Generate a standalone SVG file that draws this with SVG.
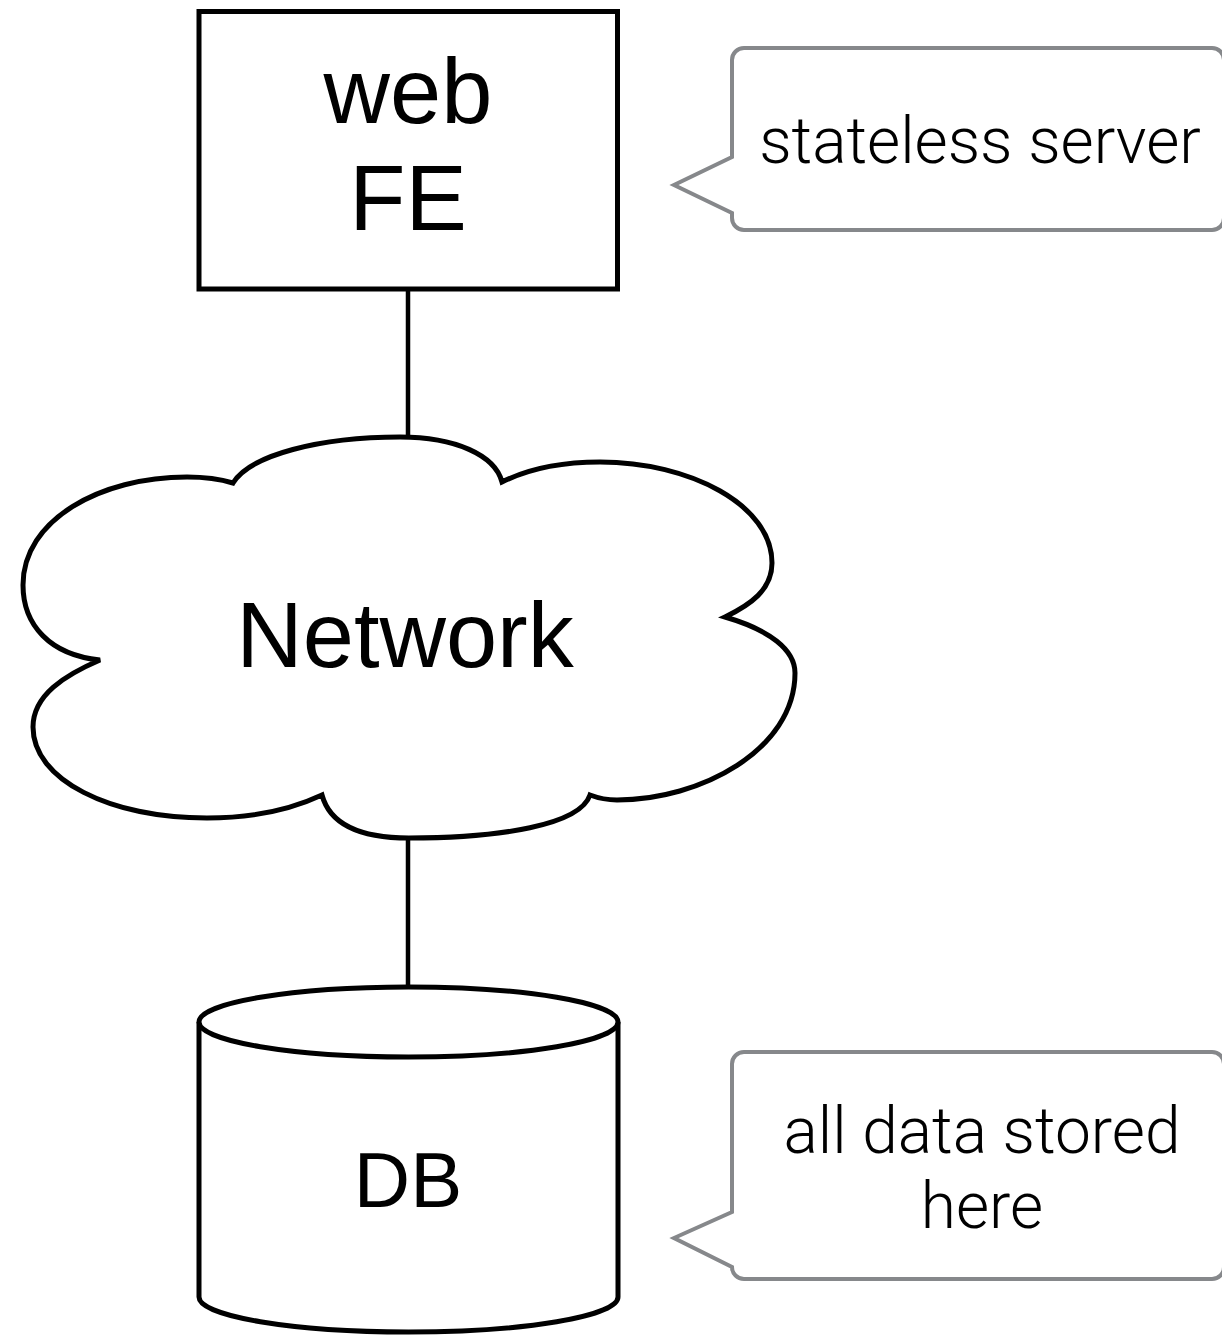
<svg xmlns="http://www.w3.org/2000/svg" width="1222" height="1335" viewBox="0 0 1222 1335">
  <style>
    .shape { fill: #ffffff; stroke: #000000; stroke-width: 5; }
    .link { stroke: #000000; stroke-width: 4.5; fill: none; }
    .note { fill: #ffffff; stroke: #86888b; stroke-width: 4; stroke-linejoin: miter; }
    .label { font-family: "Liberation Sans", Arial, Helvetica, sans-serif; fill: #000000; text-anchor: middle; }
    .note-text { font-family: Roboto, "Liberation Sans", Arial, sans-serif; font-weight: 300; fill: #000000; text-anchor: middle; font-size: 64px; }
  </style>
  <rect width="1222" height="1335" fill="#ffffff"/>

  <!-- connectors -->
  <g id="connectors">
    <line class="link" x1="408" y1="290" x2="408" y2="440"/>
    <line class="link" x1="408" y1="836" x2="408" y2="988"/>
  </g>

  <!-- web front end -->
  <g id="web-fe">
    <rect class="shape" x="199" y="11.5" width="418.5" height="277.5"/>
    <text class="label" x="408" y="123" font-size="92">web</text>
    <text class="label" x="408" y="230" font-size="92">FE</text>
  </g>

  <!-- network cloud -->
  <g id="network">
    <path class="shape" d="M100,660
      C50,655 23,625 23,585
      C23,520 100,477 187,477
      C205,477 220,479 233,483
      C250,455 320,437 400,437
      C455,437 495,455 502,482
      C530,468 565,462 600,462
      C690,462 772,505 772,563
      C772,590 750,605 725,617
      C770,630 795,650 795,673
      C795,750 700,800 617,800
      C605,800 598,798 590,795
      C580,825 500,838 409,838
      C360,838 330,825 322,795
      C290,810 250,818 207,818
      C110,818 33,780 33,727
      C33,695 65,675 100,660 Z"/>
    <text class="label" x="405" y="667" font-size="92">Network</text>
  </g>

  <!-- database cylinder -->
  <g id="db">
    <path class="shape" d="M199,1022 V1297 A209.5,35 0 0 0 618,1297 V1022"/>
    <ellipse class="shape" cx="408.5" cy="1022" rx="209.5" ry="35"/>
    <text class="label" x="408" y="1207" font-size="78">DB</text>
  </g>

  <!-- annotation for the front end -->
  <g id="note-stateless">
    <path class="note" d="M744,48 H1212 A12,12 0 0 1 1224,60 V218 A12,12 0 0 1 1212,230 H744 A12,12 0 0 1 732,218 V213 L674,185 L732,157 V60 A12,12 0 0 1 744,48 Z"/>
    <text class="note-text" x="980" y="163">stateless server</text>
  </g>

  <!-- annotation for the database -->
  <g id="note-data">
    <path class="note" d="M744,1052 H1212 A12,12 0 0 1 1224,1064 V1267 A12,12 0 0 1 1212,1279 H744 A12,12 0 0 1 732,1267 L674,1238 L732,1212 V1064 A12,12 0 0 1 744,1052 Z"/>
    <text class="note-text" x="982" y="1153">all data stored</text>
    <text class="note-text" x="982" y="1228">here</text>
  </g>
</svg>
